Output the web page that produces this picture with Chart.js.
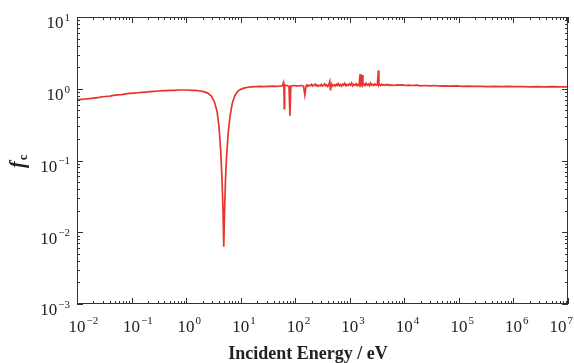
<!DOCTYPE html>
<html>
<head>
<meta charset="utf-8">
<script src="https://cdn.jsdelivr.net/npm/chart.js@4"></script>
<style>
  body { margin: 0; background: #fff; }
  canvas { display: block; }
</style>
</head>
<body>
<canvas id="fcChart" width="574" height="363"></canvas>
<script>
// incident energy (eV) and f_c, line for line
const energies = [
  0.01, 0.012, 0.014, 0.017, 0.02, 0.024, 0.028, 0.033, 0.04, 0.047, 0.055, 0.066, 0.078, 0.093,
  0.11, 0.13, 0.155, 0.18, 0.22, 0.26, 0.31, 0.37, 0.44, 0.52, 0.62, 0.74, 0.88, 1.05, 1.25, 1.5,
  1.8, 2.1, 2.5, 2.9, 3.3, 3.7, 4.0, 4.3, 4.55, 4.75, 4.9, 5.05, 5.25, 5.5, 5.9, 6.4, 7.0, 7.8,
  8.8, 10, 11.5, 13.5, 16, 19, 23, 27, 32, 38, 45, 52, 58, 61, 62, 63, 64, 67, 72, 77, 80, 83,
  90, 98, 108, 118, 130, 142, 150,
  158, 165, 172, 180, 190, 200, 210, 220, 230, 240, 250, 262, 275, 288, 300, 315, 330, 345, 360, 378,
  395, 412, 430, 438, 445, 455, 470, 490, 520, 545, 570, 595, 620, 650, 680, 710, 740, 775, 810, 850,
  890, 935, 980, 1030, 1080, 1130, 1180, 1240, 1300, 1360, 1420, 1480, 1550, 1580, 1620, 1660, 1700, 1740, 1800, 1890,
  1980, 2080, 2180, 2290, 2400, 2520, 2640, 2770, 2900, 3050, 3200, 3350, 3420, 3500, 3670, 3850, 4050, 4250, 4470, 4700,
  4950, 5200, 5500, 5800,
  6500, 7300, 8200, 9300, 1.05e4, 1.2e4, 1.4e4, 1.7e4, 2e4, 2.4e4, 3e4, 3.7e4, 4.5e4, 5.5e4, 7e4,
  9e4, 1.2e5, 1.5e5, 2e5, 2.6e5, 3.4e5, 4.5e5, 6e5, 8e5, 1.1e6, 1.5e6, 2e6, 2.8e6, 3.8e6,
  5.2e6, 7e6, 1e7
];
const fcValues = [
  0.70, 0.71, 0.72, 0.73, 0.74, 0.75, 0.77, 0.78, 0.79, 0.81, 0.82, 0.83, 0.85, 0.86,
  0.87, 0.88, 0.89, 0.90, 0.91, 0.92, 0.93, 0.94, 0.94, 0.95, 0.95, 0.96, 0.96, 0.96, 0.95, 0.95,
  0.93, 0.91, 0.87, 0.79, 0.66, 0.48, 0.30, 0.14, 0.055, 0.02, 0.0063, 0.018, 0.05, 0.11, 0.24, 0.42, 0.62, 0.80,
  0.92, 0.98, 1.02, 1.05, 1.06, 1.07, 1.08, 1.07, 1.08, 1.09, 1.08, 1.09, 1.10, 1.22, 1.08, 0.53, 1.10, 1.12, 1.10, 1.08, 0.42, 1.09,
  1.10, 1.11, 1.09, 1.10, 1.11, 1.09, 0.82,
  1.10, 1.13, 1.08, 1.12, 1.10, 1.15, 1.09, 1.12, 1.16, 1.10, 1.13, 1.08, 1.12, 1.10, 1.15, 1.09, 1.12, 1.17, 1.10, 1.13,
  1.08, 1.14, 1.26, 1.05, 0.95, 1.12, 1.15, 1.09, 1.14, 1.10, 1.16, 1.11, 1.18, 1.10, 1.14, 1.09, 1.16, 1.12, 1.19, 1.10,
  1.15, 1.11, 1.17, 1.12, 1.20, 1.10, 1.15, 1.12, 1.17, 1.10, 1.15, 1.12, 1.60, 1.12, 1.16, 1.12, 1.55, 1.13, 1.17, 1.11,
  1.19, 1.12, 1.16, 1.10, 1.20, 1.12, 1.15, 1.11, 1.17, 1.12, 1.14, 1.80, 1.12, 1.15, 1.11, 1.16, 1.12, 1.14, 1.11, 1.15,
  1.12, 1.14, 1.11, 1.13,
  1.11, 1.13, 1.12, 1.13, 1.11, 1.12, 1.11, 1.12, 1.10, 1.11, 1.10, 1.11, 1.09, 1.10, 1.09,
  1.10, 1.08, 1.09, 1.08, 1.08, 1.07, 1.08, 1.07, 1.08, 1.07, 1.07, 1.06, 1.07, 1.06,
  1.07, 1.06, 1.06
];
const xDecades = [-2, -1, 0, 1, 2, 3, 4, 5, 6, 7];
const yDecades = [-3, -2, -1, 0, 1];

const serif = '"Liberation Serif", "DejaVu Serif", serif';

// inward ticks, frame, 10^n labels and axis titles
const frame = {
  id: 'frame',
  afterDraw(chart) {
    const { ctx, chartArea: a, scales } = chart;
    const xs = scales.x, ys = scales.y;
    ctx.save();
    ctx.strokeStyle = '#333';
    ctx.lineWidth = 1;
    ctx.strokeRect(a.left + 0.5, a.top + 0.5, a.right - a.left - 1, a.bottom - a.top - 1);

    ctx.beginPath();
    xDecades.forEach(n => {
      for (let m = 1; m <= 9; m++) {
        const v = m * Math.pow(10, n);
        if (v > 1e7 * 1.0001) break;
        const px = Math.round(xs.getPixelForValue(v)) + 0.5;
        const len = m === 1 ? 6 : 3;
        ctx.moveTo(px, a.bottom); ctx.lineTo(px, a.bottom - len);
        ctx.moveTo(px, a.top); ctx.lineTo(px, a.top + len);
      }
    });
    yDecades.forEach(n => {
      for (let m = 1; m <= 9; m++) {
        const v = m * Math.pow(10, n);
        if (v > 10 * 1.0001) break;
        const py = Math.round(ys.getPixelForValue(v)) + 0.5;
        const len = m === 1 ? 6 : 3;
        ctx.moveTo(a.left, py); ctx.lineTo(a.left + len, py);
        ctx.moveTo(a.right, py); ctx.lineTo(a.right - len, py);
      }
    });
    ctx.stroke();

    ctx.fillStyle = '#222';
    ctx.textBaseline = 'middle';
    const exp = n => String(n).replace('-', '\u2212');
    xDecades.forEach(n => {
      let px = xs.getPixelForValue(Math.pow(10, n));
      ctx.font = '17px ' + serif;
      const w = ctx.measureText('10').width;
      ctx.font = '11px ' + serif;
      const ew = ctx.measureText(exp(n)).width;
      // keep the last label inside the canvas
      const overflow = px + w / 2 + 1 + ew - (chart.width - 1);
      if (overflow > 0) px -= overflow;
      ctx.textAlign = 'left';
      ctx.fillText(exp(n), px + w / 2 + 1, 321);
      ctx.font = '17px ' + serif;
      ctx.textAlign = 'center';
      ctx.fillText('10', px, 328);
    });
    yDecades.forEach(n => {
      const py = ys.getPixelForValue(Math.pow(10, n));
      ctx.font = '11px ' + serif;
      ctx.textAlign = 'right';
      ctx.fillText(exp(n), 70, py + 1);
      const ew = ctx.measureText(exp(n)).width;
      ctx.font = '17px ' + serif;
      ctx.fillText('10', 70 - ew - 1, py + 7);
    });

    ctx.font = 'bold 18px ' + serif;
    ctx.textAlign = 'center';
    ctx.fillText('Incident Energy / eV', 308, 354);

    ctx.translate(19, 162);
    ctx.rotate(-Math.PI / 2);
    ctx.textAlign = 'left';
    ctx.font = 'italic bold 20px ' + serif;
    ctx.fillText('f', -6, 0);
    const fw = ctx.measureText('f').width;
    ctx.font = 'bold 13px ' + serif;
    ctx.fillText('c', -6 + fw + 1, 5);
    ctx.restore();
  }
};

new Chart(document.getElementById('fcChart'), {
  type: 'line',
  data: {
    datasets: [{
      data: energies.map((e, i) => ({ x: e, y: fcValues[i] })),
      borderColor: '#e8342c',
      borderWidth: 1.7,
      pointRadius: 0,
      tension: 0,
      fill: false
    }]
  },
  options: {
    responsive: false,
    animation: false,
    devicePixelRatio: 1,
    layout: { padding: { top: 17, right: 6, left: 0, bottom: 0 } },
    plugins: { legend: { display: false }, tooltip: { enabled: false } },
    scales: {
      x: {
        type: 'logarithmic', min: 1e-2, max: 1e7,
        ticks: { display: false },
        grid: { display: false },
        border: { display: false },
        afterFit: s => { s.height = 59; }
      },
      y: {
        type: 'logarithmic', min: 1e-3, max: 10,
        ticks: { display: false },
        grid: { display: false },
        border: { display: false },
        afterFit: s => { s.width = 77; }
      }
    }
  },
  plugins: [frame]
});
</script>
</body>
</html>
